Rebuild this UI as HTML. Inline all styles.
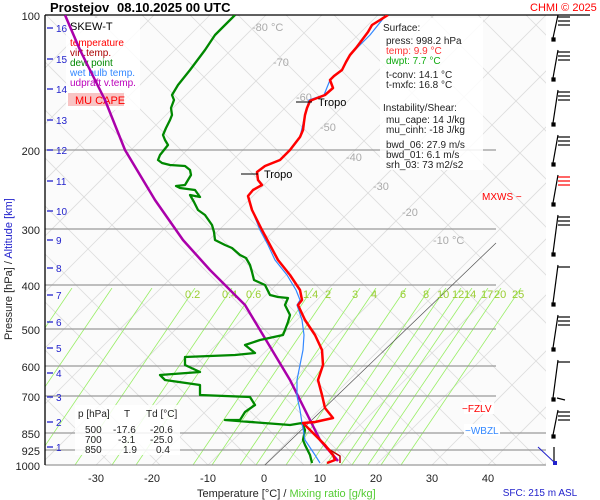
<!DOCTYPE html>
<html><head><meta charset="utf-8"><style>
body{margin:0;background:#fff;}
svg{display:block;font-family:"Liberation Sans",sans-serif;}
</style></head><body>
<svg id="s" width="600" height="500" viewBox="0 0 600 500" xmlns="http://www.w3.org/2000/svg">
<rect width="600" height="500" fill="#fff"/>
<rect x="45" y="15" width="501" height="450" fill="#fbfbfb"/>
<defs><clipPath id="c"><rect x="45" y="15" width="501" height="450"/></clipPath>
<clipPath id="c2"><rect x="45" y="288" width="501" height="177"/></clipPath></defs>
<g id="grid" clip-path="url(#c)"></g>
<g id="mix" clip-path="url(#c2)"></g>
<!-- pressure lines -->
<g stroke="#999" stroke-width="1.2">
<line x1="45" y1="150" x2="496" y2="150"/><line x1="45" y1="229" x2="496" y2="229"/>
<line x1="45" y1="285" x2="496" y2="285"/><line x1="45" y1="329" x2="496" y2="329"/>
<line x1="45" y1="366" x2="496" y2="366"/><line x1="45" y1="396" x2="496" y2="396"/>
<line x1="45" y1="433" x2="546" y2="433"/><line x1="45" y1="450" x2="546" y2="450"/>
<line x1="45" y1="465" x2="546" y2="465"/>
</g>
<line x1="265" y1="465" x2="496" y2="243" stroke="#555" stroke-width="0.7"/>
<line x1="45" y1="15" x2="590" y2="15" stroke="#000" stroke-width="1.3"/>
<line x1="45" y1="15" x2="45" y2="465" stroke="#000" stroke-width="1.3"/>
<!-- isotherm labels -->
<g fill="#aaa" font-size="11">
<text x="252" y="31">-80 °C</text><text x="273" y="66">-70</text><text x="296" y="101">-60</text>
<text x="320" y="131">-50</text><text x="346" y="161">-40</text><text x="373" y="190">-30</text>
<text x="402" y="216">-20</text><text x="433" y="244">-10 °C</text>
</g>
<g fill="#9acd32" font-size="11">
<text x="185" y="298">0.2</text><text x="222" y="298">0.4</text><text x="246" y="298">0.6</text>
<text x="303" y="298">1.4</text><text x="325" y="298">2</text><text x="352" y="298">3</text>
<text x="371" y="298">4</text><text x="400" y="298">6</text><text x="423" y="298">8</text>
<text x="437" y="298">10</text><text x="452" y="298">12</text><text x="464" y="298">14</text>
<text x="481" y="298">17</text><text x="494" y="298">20</text><text x="512" y="298">25</text>
</g>
<!-- legend box -->
<rect x="66" y="18" width="74" height="92" fill="#fff" opacity="0.85"/>
<text x="70" y="30" font-size="11">SKEW-T</text>
<g font-size="10">
<text x="70" y="46" fill="#f00">temperature</text>
<text x="70" y="56" fill="#a00">virt.temp.</text>
<text x="70" y="66" fill="#080">dew point</text>
<text x="70" y="76" fill="#38f">wet bulb temp.</text>
<text x="70" y="86" fill="#b0b">udpraft v.temp.</text>
</g>
<rect x="68" y="93" width="56" height="13" fill="#f8c4c4"/>
<text x="75" y="104" font-size="11" fill="#f00">MU CAPE</text>
<!-- surface box -->
<rect x="380" y="18" width="103" height="152" fill="#fff" opacity="0.85"/>
<g font-size="10" fill="#222">
<text x="383" y="31">Surface:</text>
<text x="386" y="44">press: 998.2 hPa</text>
<text x="386" y="54" fill="#f33">temp: 9.9 °C</text>
<text x="386" y="64" fill="#1a1">dwpt: 7.7 °C</text>
<text x="386" y="78">t-conv: 14.1 °C</text>
<text x="386" y="88">t-mxfc: 16.8 °C</text>
<text x="383" y="111">Instability/Shear:</text>
<text x="386" y="123">mu_cape: 14 J/kg</text>
<text x="386" y="133">mu_cinh: -18 J/kg</text>
<text x="386" y="148">bwd_06: 27.9 m/s</text>
<text x="386" y="158">bwd_01: 6.1 m/s</text>
<text x="386" y="168">srh_03: 73 m2/s2</text>
</g>
<!-- table -->
<rect x="75" y="405" width="105" height="50" fill="#fff" opacity="0.85"/>
<g font-size="10" fill="#222">
<text x="78" y="417">p [hPa]</text><text x="124" y="417">T</text><text x="146" y="417">Td [°C]</text>
<text x="85" y="433">500</text><text x="113" y="433">-17.6</text><text x="150" y="433">-20.6</text>
<text x="85" y="443">700</text><text x="118" y="443">-3.1</text><text x="150" y="443">-25.0</text>
<text x="85" y="453">850</text><text x="123" y="453">1.9</text><text x="156" y="453">0.4</text>
</g>
<!-- curves -->
<g fill="none" stroke-linejoin="round" clip-path="url(#c)">
<polyline stroke="#a0a" stroke-width="2.5" points="65,15 80,50 105,100 125,150 155,200 183,240 210,270 245,305 263,335 290,380 310,420 320,440 338,461"/>
<polyline stroke="#080" stroke-width="2.3" points="235,15 225,25 215,35 205,50 190,70 178,85 172,95 174,100 171,108 172,115 170,120 166,128 163,135 165,140 168,145 164,150 160,155 158,160 162,163 170,165 185,166 190,170 191,175 188,180 185,185 176,186 180,188 195,190 200,197 190,195 194,202 198,210 205,215 212,225 214,232 215,240 225,245 232,248 240,255 246,258 250,265 252,272 254,280 265,285 270,295 278,297 288,298 285,305 290,315 288,322 285,330 283,335 260,340 245,345 255,353 235,355 185,357 185,365 200,372 160,375 165,380 200,385 200,395 250,397 255,405 245,412 240,420 225,420 290,425 302,423 305,430 303,440 305,445 310,455 312,463"/>
<polyline stroke="#38f" stroke-width="1.2" points="386,15 370,35 350,55 342,70 330,80 324,95 309,100 305,115 300,137 290,150 280,160 265,166 257,172 258,180 262,185 253,190 248,196 252,210 260,230 268,245 275,260 287,275 296,290 300,300 297,305 302,320 304,335 303,350 300,365 297,380 297,396 300,410 302,423 305,440 315,455 320,463"/>
<polyline stroke="#b00" stroke-width="1.5" points="303,423 318,438 330,450 340,456 340,463"/>
<polyline stroke="#f00" stroke-width="2.5" points="388,15 380,20 372,25 368,32 362,40 356,48 350,55 346,62 342,70 334,76 330,80 333,88 325,95 312,100 310,101 307,108 305,115 304,122 303,130 300,137 290,150 285,155 280,160 265,166 257,172 258,180 262,185 253,190 248,196 252,210 262,230 270,245 278,260 290,275 300,290 302,300 298,305 305,320 315,335 322,350 323,365 318,380 322,395 325,408 333,418 315,422 303,423 315,435 325,445 333,455 335,460 327,463"/>
</g>
<!-- tropo -->
<line x1="241" y1="174" x2="258" y2="174" stroke="#000"/><text x="264" y="178" font-size="11">Tropo</text>
<line x1="296" y1="102" x2="312" y2="102" stroke="#000"/><text x="318" y="106" font-size="11">Tropo</text>
<!-- axes text -->
<text x="50" y="12" font-size="13" font-weight="bold">Prostejov</text>
<text x="117" y="12" font-size="13" font-weight="bold">08.10.2025 00 UTC</text>
<text x="530" y="11" font-size="11" fill="#f00">CHMI © 2025</text>
<g font-size="11" text-anchor="end" fill="#222">
<text x="40" y="20">100</text><text x="40" y="155">200</text><text x="40" y="234">300</text>
<text x="40" y="290">400</text><text x="40" y="334">500</text><text x="40" y="371">600</text>
<text x="40" y="401">700</text><text x="40" y="438">850</text><text x="40" y="455">925</text><text x="40" y="470">1000</text>
</g>
<g font-size="11" text-anchor="middle" fill="#222">
<text x="96" y="482">-30</text><text x="152" y="482">-20</text><text x="208" y="482">-10</text>
<text x="264" y="482">0</text><text x="320" y="482">10</text><text x="376" y="482">20</text>
<text x="432" y="482">30</text><text x="488" y="482">40</text>
</g>
<text x="197" y="497" font-size="11" fill="#222">Temperature [°C]  /  <tspan fill="#5c3">Mixing ratio [g/kg]</tspan></text>
<text x="540" y="496" font-size="10" fill="#22c" text-anchor="middle">SFC: 215 m ASL</text>
<text transform="translate(12,340) rotate(-90)" font-size="11" fill="#222">Pressure [hPa]  /  <tspan fill="#22c">Altitude [km]</tspan></text>
<g font-size="10" fill="#22c">
<text x="56" y="32">16</text><text x="56" y="63">15</text><text x="56" y="93">14</text><text x="56" y="124">13</text>
<text x="56" y="154">12</text><text x="56" y="185">11</text><text x="56" y="215">10</text><text x="56" y="244">9</text>
<text x="56" y="272">8</text><text x="56" y="299">7</text><text x="56" y="326">6</text><text x="56" y="352">5</text>
<text x="56" y="377">4</text><text x="56" y="401">3</text><text x="56" y="426">2</text><text x="56" y="451">1</text>
</g>
<g stroke="#22c" stroke-width="1.3">
<line x1="47" y1="28" x2="53" y2="28"/><line x1="47" y1="59" x2="53" y2="59"/><line x1="47" y1="89" x2="53" y2="89"/>
<line x1="47" y1="120" x2="53" y2="120"/><line x1="47" y1="150" x2="53" y2="150"/><line x1="47" y1="181" x2="53" y2="181"/>
<line x1="47" y1="211" x2="53" y2="211"/><line x1="47" y1="240" x2="53" y2="240"/><line x1="47" y1="268" x2="53" y2="268"/>
<line x1="47" y1="295" x2="53" y2="295"/><line x1="47" y1="322" x2="53" y2="322"/><line x1="47" y1="348" x2="53" y2="348"/>
<line x1="47" y1="373" x2="53" y2="373"/><line x1="47" y1="397" x2="53" y2="397"/><line x1="47" y1="422" x2="53" y2="422"/>
<line x1="47" y1="447" x2="53" y2="447"/>
</g>
<!-- levels -->
<rect x="464" y="402" width="30" height="12" fill="#fff"/>
<text x="462" y="412" font-size="10" fill="#f00">−FZLV</text>
<rect x="464" y="424" width="36" height="12" fill="#fff"/>
<text x="465" y="434" font-size="10" fill="#38f">−WBZL</text>
<text x="482" y="200" font-size="10" fill="#f00">MXWS −</text>
<!-- wind barbs -->
<g id="barbs" stroke="#000" stroke-width="1.2" fill="none"></g>
<line x1="538" y1="447" x2="555" y2="463" stroke="#22c"/><rect x="553" y="461" width="4" height="4" fill="#22c"/>
</svg>
<script>
var NS="http://www.w3.org/2000/svg";
function ln(g,x1,y1,x2,y2,c,w){var l=document.createElementNS(NS,"line");l.setAttribute("x1",x1);l.setAttribute("y1",y1);l.setAttribute("x2",x2);l.setAttribute("y2",y2);l.setAttribute("stroke",c);l.setAttribute("stroke-width",w);g.appendChild(l);}
function rc(g,x,y,c){var r=document.createElementNS(NS,"rect");r.setAttribute("x",x);r.setAttribute("y",y);r.setAttribute("width",3);r.setAttribute("height",3);r.setAttribute("fill",c);g.appendChild(r);}
var g=document.getElementById("grid");
for(var T=-130;T<=50;T+=10){var x0=264+5.6*T;ln(g,x0,465,x0+450,15,"#ddd",0.8);}
for(var k=-6;k<=16;k++){var x0=100+k*48;ln(g,x0+300,465,x0-150,15,"#ddd",0.8);}
var m=document.getElementById("mix");
var mx=[192,229,253,310,329,357,373,403,427,443,458,469,485,498,518];
for(var i=0;i<mx.length;i++){var xt=mx[i]+3;var xb=xt-120;ln(m,xb,465,xt,288,"#9e6",0.8);}
for(var k=1;k<=3;k++){ln(m,192-k*40-120,465,192-k*40,288,"#9e6",0.8);}
var b=document.getElementById("barbs");
var ys=[15,50,90,135,175,215,265,315,360,410,447];
for(var i=0;i<ys.length-1;i++){var y=ys[i],y2=ys[i+1]-12;var c=(i==4)?"#f00":"#000";
 ln(b,553,y2,558,y,"#000",1.2);
 var n=(i==6||i==8)?1:3;
 for(var j=0;j<n;j++)ln(b,558,y+2+j*4,570,y+2+j*4,c,1.2);
 rc(b,552,y2,"#000");}
ln(b,554,447,554,463,"#000",1.2);
ln(b,557,398,565,400,"#000",1.2);
</script>
</body></html>
